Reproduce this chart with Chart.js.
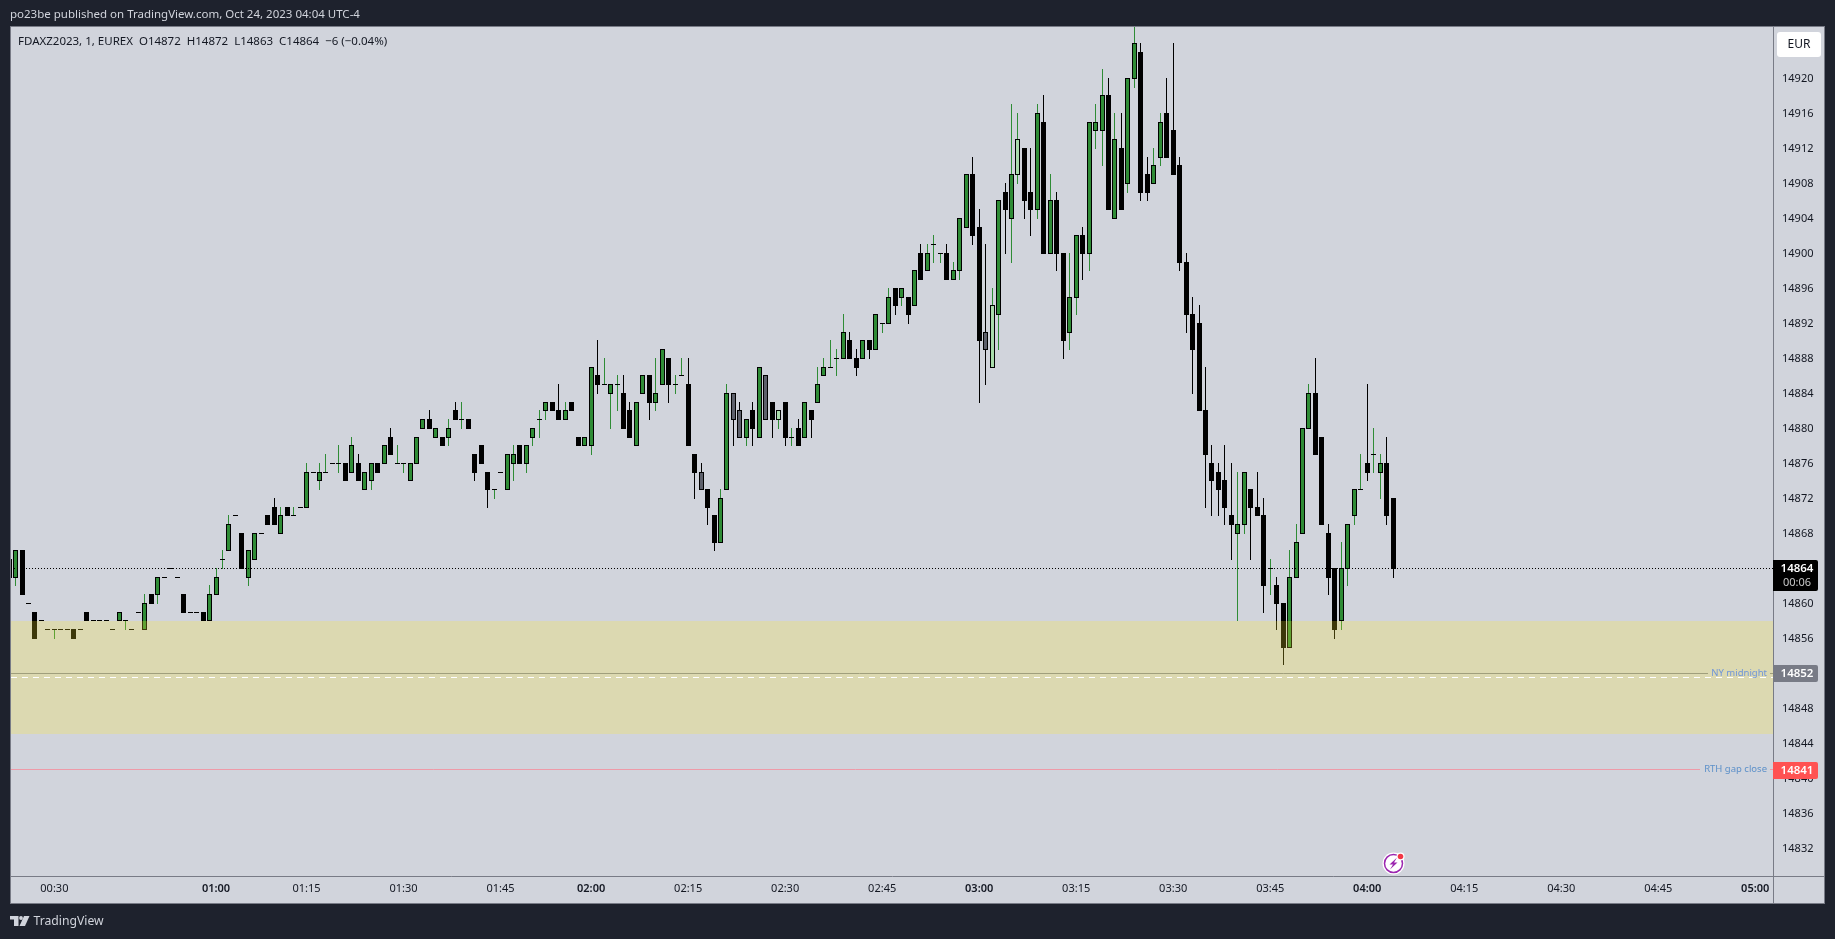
<!DOCTYPE html>
<html>
<head>
<meta charset="utf-8">
<title>FDAXZ2023</title>
<script src="https://cdn.jsdelivr.net/npm/chart.js@4/dist/chart.umd.js"></script>
<style>
  html, body { margin: 0; padding: 0; background: #1e222d; overflow: hidden; }
  canvas { display: block; }
</style>
</head>
<body>
<canvas id="myChart" width="1835" height="939"></canvas>
<script>
const opens = [14863,14863,14866,14860,14859,14858,14857,14857,14857,14857,14857,14857,14859,14858,14858,14858,14857,14858,14858,14857,
  14859,14857,14861,14861,14863,14864,14863,14861,14859,14859,14859,14858,14861,14865,14866,14870,14868,14863,14865,14868,
  14870,14871,14868,14871,14870,14871,14871,14875,14874,14875,14876,14876,14876,14875,14876,14873,14874,14876,14876,14879,
  14876,14876,14874,14876,14880,14881,14879,14879,14879,14882,14881,14881,14877,14878,14875,14873,14875,14873,14876,14878,
  14876,14879,14881,14882,14883,14882,14881,14883,14879,14878,14878,14886,14885,14884,14885,14884,14882,14878,14884,14886,
  14883,14885,14888,14885,14886,14885,14877,14875,14873,14870,14867,14873,14884,14882,14879,14882,14879,14886,14883,14881,
  14883,14879,14880,14879,14882,14883,14886,14887,14888,14888,14890,14888,14888,14890,14889,14892,14892,14896,14895,14895,
  14894,14900,14898,14901,14900,14900,14897,14898,14903,14909,14903,14891,14887,14893,14907,14904,14909,14912,14907,14905,
  14915,14900,14906,14900,14891,14895,14902,14900,14914,14914,14918,14904,14912,14908,14920,14923,14909,14908,14911,14916,
  14914,14910,14899,14893,14892,14882,14876,14875,14874,14870,14868,14869,14873,14871,14870,14864,14862,14860,14855,14863,
  14868,14880,14884,14879,14868,14864,14858,14864,14870,14873,14876,14877,14875,14876,14872];
const highs = [14865,14866,14866,14860,14859,14858,14857,14857,14857,14857,14857,14857,14859,14858,14858,14858,14857,14859,14858,14857,
  14859,14861,14861,14863,14863,14864,14863,14861,14859,14859,14859,14862,14864,14866,14870,14870,14868,14866,14868,14868,
  14870,14872,14871,14871,14871,14871,14876,14875,14876,14877,14876,14878,14876,14879,14877,14875,14876,14876,14878,14880,
  14878,14876,14876,14879,14881,14882,14880,14879,14881,14883,14883,14881,14877,14878,14875,14873,14875,14877,14878,14878,
  14878,14880,14882,14883,14883,14885,14883,14883,14879,14879,14887,14890,14888,14885,14886,14886,14883,14883,14886,14886,
  14888,14889,14888,14886,14888,14888,14877,14876,14873,14870,14873,14885,14884,14883,14881,14883,14887,14886,14883,14882,
  14883,14880,14881,14883,14882,14887,14888,14890,14889,14893,14891,14889,14890,14890,14893,14892,14896,14896,14896,14895,
  14898,14901,14901,14902,14900,14901,14899,14904,14909,14911,14905,14901,14896,14906,14908,14917,14916,14912,14912,14917,
  14918,14909,14907,14900,14900,14902,14903,14915,14917,14921,14920,14916,14916,14920,14926,14924,14911,14912,14916,14920,
  14924,14911,14900,14895,14894,14887,14878,14876,14878,14876,14875,14875,14873,14875,14872,14865,14863,14860,14866,14869,
  14880,14885,14888,14879,14869,14864,14867,14869,14873,14877,14885,14880,14877,14879,14872];
const lows = [14863,14862,14861,14860,14856,14858,14857,14856,14857,14857,14856,14857,14858,14858,14858,14858,14857,14858,14857,14857,
  14859,14857,14860,14860,14863,14864,14863,14859,14859,14859,14858,14858,14861,14864,14866,14870,14864,14862,14865,14868,
  14869,14869,14868,14870,14870,14871,14871,14875,14873,14875,14876,14875,14874,14875,14874,14873,14873,14875,14876,14877,
  14876,14875,14874,14876,14880,14880,14879,14878,14878,14881,14880,14880,14874,14876,14871,14872,14875,14873,14874,14876,
  14875,14878,14879,14881,14882,14881,14881,14882,14878,14878,14877,14884,14885,14880,14882,14880,14879,14878,14884,14881,
  14882,14885,14883,14884,14886,14878,14872,14873,14869,14866,14867,14873,14878,14879,14878,14878,14879,14881,14879,14880,
  14878,14878,14878,14879,14879,14883,14886,14887,14886,14888,14888,14886,14888,14888,14889,14891,14892,14893,14894,14892,
  14894,14897,14898,14899,14899,14897,14897,14897,14903,14901,14883,14885,14887,14889,14900,14899,14908,14904,14902,14904,
  14900,14900,14898,14888,14889,14893,14897,14898,14912,14910,14905,14904,14905,14907,14919,14906,14906,14908,14910,14911,
  14909,14898,14891,14884,14882,14871,14870,14870,14869,14865,14858,14868,14865,14870,14859,14861,14857,14853,14855,14863,
  14868,14880,14877,14869,14861,14856,14857,14862,14869,14873,14874,14875,14872,14869,14863];
const closes = [14865,14866,14861,14860,14856,14858,14857,14857,14857,14857,14856,14857,14858,14858,14858,14858,14857,14859,14858,14857,
  14859,14860,14860,14863,14863,14864,14863,14859,14859,14859,14858,14861,14863,14865,14869,14870,14864,14866,14868,14868,
  14869,14869,14870,14870,14870,14871,14875,14875,14875,14875,14876,14876,14874,14878,14874,14875,14876,14875,14878,14877,
  14876,14876,14876,14879,14881,14880,14880,14878,14880,14881,14881,14880,14875,14876,14873,14873,14875,14877,14877,14876,
  14878,14880,14881,14883,14882,14881,14882,14882,14878,14879,14887,14885,14885,14885,14885,14880,14879,14883,14886,14883,
  14884,14889,14885,14885,14886,14878,14875,14873,14871,14867,14872,14884,14881,14879,14881,14880,14887,14881,14881,14882,
  14879,14879,14878,14883,14881,14885,14887,14887,14888,14891,14888,14887,14890,14889,14893,14892,14895,14894,14896,14893,
  14898,14897,14900,14901,14900,14897,14898,14904,14909,14902,14890,14889,14894,14906,14905,14909,14913,14906,14905,14916,
  14900,14906,14900,14890,14895,14902,14900,14915,14915,14918,14905,14913,14905,14920,14924,14907,14907,14910,14915,14911,
  14909,14899,14893,14889,14882,14877,14874,14873,14871,14869,14869,14875,14871,14870,14862,14864,14860,14855,14863,14867,
  14880,14884,14877,14869,14863,14857,14864,14869,14873,14873,14875,14877,14876,14870,14864];

// candles TradingView greyed out or lightened on the original chart
const greyBars = [107, 112, 113, 117, 151];
const lightBars = [119, 152, 156];

const priceTicks = [14832,14836,14840,14844,14848,14852,14856,14860,14864,14868,14872,14876,14880,14884,14888,14892,14896,14900,14904,14908,14912,14916,14920];
const timeTicks = [7, 32, 46, 61, 76, 90, 105, 120, 135, 150, 165, 180, 195, 210, 225, 240, 255, 270];
const timeLabels = ['00:30','01:00','01:15','01:30','01:45','02:00','02:15','02:30','02:45','03:00','03:15','03:30','03:45','04:00','04:15','04:30','04:45','05:00'];
const boldTimes = ['01:00','02:00','03:00','04:00','05:00'];

const zoneTop = 14857.9;
const zoneBottom = 14845;
const midnightLevel = 14852;
const midnightDash = 14851.5;
const gapLevel = 14841;
const lastPrice = 14864;

const FONT = '"Noto Sans", sans-serif';
const GREEN = '#2f8c36';
const GREY = '#5d606b';
const LIGHT = '#a9dcab';
const AXIS_LINE = '#787b86';
const TEXT = '#131722';

const indexes = opens.map((v, i) => i);

// keep the candles on whole pixels, the reference has no blurred edges
const drawBar = Chart.BarElement.prototype.draw;
Chart.BarElement.prototype.draw = function (ctx) {
  const { x, y, base } = this;
  const top = Math.floor(Math.min(y, base));
  const bottom = Math.floor(Math.max(y, base)) + 1;
  this.x = Math.round(x - this.width / 2) + this.width / 2;
  this.y = top;
  this.base = bottom;
  drawBar.call(this, ctx);
  this.x = x;
  this.y = y;
  this.base = base;
};

function roundBox(ctx, x, y, w, h, r) {
  ctx.beginPath();
  ctx.roundRect(x, y, w, h, r);
  ctx.fill();
}

function priceTag(ctx, y, h, color, label, sub) {
  ctx.fillStyle = color;
  roundBox(ctx, 1773, y, 45, h, [0, 2, 2, 0]);
  ctx.fillStyle = '#ffffff';
  ctx.font = '600 11.5px ' + FONT;
  ctx.textAlign = 'center';
  ctx.textBaseline = 'middle';
  ctx.fillText(label, 1797, y + (sub ? 9 : h / 2));
  if (sub) {
    ctx.fillStyle = '#c8c8c8';
    ctx.font = '11px ' + FONT;
    ctx.fillText(sub, 1797, y + 23);
  }
}

function tvLogo(ctx) {
  ctx.fillStyle = '#d1d4dc';
  ctx.fillRect(10, 916, 8, 3.5);
  ctx.fillRect(14, 916, 4.5, 10);
  ctx.beginPath();
  ctx.arc(21, 918, 1.9, 0, Math.PI * 2);
  ctx.fill();
  ctx.beginPath();
  ctx.moveTo(24, 916);
  ctx.lineTo(29.5, 916);
  ctx.lineTo(25, 926);
  ctx.lineTo(19.5, 926);
  ctx.fill();
}

function boltIcon(ctx, cx, cy) {
  ctx.fillStyle = '#ffffff';
  ctx.beginPath();
  ctx.arc(cx, cy, 11, 0, Math.PI * 2);
  ctx.fill();
  ctx.strokeStyle = '#9c27b0';
  ctx.lineWidth = 1.5;
  ctx.beginPath();
  ctx.arc(cx, cy, 9, 0, Math.PI * 2);
  ctx.stroke();
  ctx.fillStyle = '#9c27b0';
  ctx.beginPath();
  ctx.moveTo(cx + 3.5, cy - 6);
  ctx.lineTo(cx - 4, cy + 1);
  ctx.lineTo(cx - 0.5, cy + 1);
  ctx.lineTo(cx - 3.5, cy + 6);
  ctx.lineTo(cx + 4, cy - 1);
  ctx.lineTo(cx + 0.5, cy - 1);
  ctx.fill();
  ctx.fillStyle = '#ffffff';
  ctx.beginPath();
  ctx.arc(cx + 7, cy - 7, 4, 0, Math.PI * 2);
  ctx.fill();
  ctx.fillStyle = '#f23645';
  ctx.beginPath();
  ctx.arc(cx + 7, cy - 7, 2.8, 0, Math.PI * 2);
  ctx.fill();
}

const tvChrome = {
  id: 'tvChrome',
  beforeDraw(chart) {
    const ctx = chart.ctx;
    ctx.save();
    ctx.fillStyle = '#1e222d';
    ctx.fillRect(0, 0, chart.width, chart.height);
    ctx.fillStyle = '#d1d4dc';
    ctx.fillRect(10, 26, 1815, 878);
    ctx.strokeStyle = AXIS_LINE;
    ctx.lineWidth = 1;
    ctx.strokeRect(10.5, 26.5, 1814, 877);
    ctx.beginPath();
    ctx.moveTo(1773.5, 876);
    ctx.lineTo(1773.5, 903);
    ctx.moveTo(1773, 876.5);
    ctx.lineTo(1824, 876.5);
    ctx.stroke();
    ctx.restore();
  },
  afterDatasetsDraw(chart) {
    const ctx = chart.ctx;
    const area = chart.chartArea;
    const y = chart.scales.y;
    ctx.save();
    ctx.beginPath();
    ctx.rect(area.left, area.top, area.right - area.left, area.bottom - area.top);
    ctx.clip();

    const zt = Math.floor(y.getPixelForValue(zoneTop));
    const zb = Math.floor(y.getPixelForValue(zoneBottom));
    ctx.fillStyle = 'rgba(255, 235, 40, 0.24)';
    ctx.fillRect(area.left, zt, area.right - area.left, zb - zt);

    ctx.lineWidth = 1;
    const lastY = Math.floor(y.getPixelForValue(lastPrice)) + 0.5;
    ctx.strokeStyle = '#000000';
    ctx.setLineDash([1, 2]);
    ctx.beginPath();
    ctx.moveTo(area.left, lastY);
    ctx.lineTo(area.right, lastY);
    ctx.stroke();

    const dashY = Math.floor(y.getPixelForValue(midnightDash)) + 0.5;
    ctx.strokeStyle = '#ffffff';
    ctx.setLineDash([6, 5]);
    ctx.beginPath();
    ctx.moveTo(area.left, dashY);
    ctx.lineTo(area.right, dashY);
    ctx.stroke();
    ctx.setLineDash([]);

    const midY = Math.floor(y.getPixelForValue(midnightLevel)) + 0.5;
    ctx.strokeStyle = '#a09f7c';
    ctx.beginPath();
    ctx.moveTo(area.left, midY);
    ctx.lineTo(1708, midY);
    ctx.moveTo(1770, midY);
    ctx.lineTo(area.right, midY);
    ctx.stroke();

    const gapY = Math.floor(y.getPixelForValue(gapLevel)) + 0.5;
    ctx.strokeStyle = '#ee9aa8';
    ctx.beginPath();
    ctx.moveTo(area.left, gapY);
    ctx.lineTo(1700, gapY);
    ctx.moveTo(1770, gapY);
    ctx.lineTo(area.right, gapY);
    ctx.stroke();

    ctx.font = '9.5px ' + FONT;
    ctx.textAlign = 'right';
    ctx.textBaseline = 'middle';
    ctx.fillStyle = '#6f95d8';
    ctx.fillText('NY midnight', 1767, midY);
    ctx.fillStyle = '#5c90c9';
    ctx.fillText('RTH gap close', 1767, gapY);
    ctx.restore();
  },
  afterDraw(chart) {
    const ctx = chart.ctx;
    const y = chart.scales.y;
    ctx.save();

    priceTag(ctx, Math.round(y.getPixelForValue(lastPrice)) - 8, 31, '#000000', '14864', '00:06');
    priceTag(ctx, Math.round(y.getPixelForValue(midnightLevel)) - 8, 17, AXIS_LINE, '14852');
    priceTag(ctx, Math.round(y.getPixelForValue(gapLevel)) - 8, 17, '#ff5252', '14841');

    ctx.fillStyle = '#ffffff';
    roundBox(ctx, 1777, 32, 44, 25, 3);
    ctx.fillStyle = TEXT;
    ctx.font = '12px ' + FONT;
    ctx.textAlign = 'center';
    ctx.textBaseline = 'middle';
    ctx.fillText('EUR', 1799, 44.5);

    ctx.textAlign = 'left';
    ctx.fillStyle = '#d1d4dc';
    ctx.font = '11.5px ' + FONT;
    ctx.fillText('po23be published on TradingView.com, Oct 24, 2023 04:04 UTC-4', 10, 14.5);

    ctx.fillStyle = TEXT;
    ctx.font = '11.5px ' + FONT;
    ctx.fillText('FDAXZ2023, 1, EUREX  O14872  H14872  L14863  C14864  \u22126 (\u22120.04%)', 18, 41.5);

    tvLogo(ctx);
    ctx.fillStyle = '#d1d4dc';
    ctx.font = '12.2px ' + FONT;
    ctx.fillText('TradingView', 33.5, 921.5);

    boltIcon(ctx, 1393.5, 863.5);
    ctx.restore();
  }
};

new Chart(document.getElementById('myChart'), {
  type: 'bar',
  data: {
    datasets: [
      {
        label: 'wicks',
        data: indexes.map(i => ({ x: i, y: [lows[i], highs[i]] })),
        backgroundColor: indexes.map(i => (closes[i] >= opens[i] ? GREEN : '#000000')),
        borderWidth: 0,
        barThickness: 1,
        inflateAmount: 0,
        grouped: false,
        clip: 0,
        order: 2
      },
      {
        label: 'bodies',
        data: indexes.map(i => ({ x: i, y: [opens[i], closes[i]] })),
        backgroundColor: indexes.map(i => {
          if (greyBars.includes(i)) return GREY;
          if (lightBars.includes(i)) return LIGHT;
          return closes[i] >= opens[i] ? GREEN : '#000000';
        }),
        borderColor: '#000000',
        borderWidth: 1,
        borderSkipped: false,
        barThickness: 5,
        inflateAmount: 0,
        grouped: false,
        clip: 0,
        order: 1
      }
    ]
  },
  options: {
    responsive: false,
    animation: false,
    events: [],
    layout: { padding: { left: 11, top: 27, right: 10, bottom: 36 } },
    plugins: { legend: { display: false }, tooltip: { enabled: false }, title: { display: false } },
    scales: {
      x: {
        type: 'linear',
        offset: false,
        min: 0.294,
        max: 272.75,
        afterFit: scale => { scale.height = 27; },
        afterBuildTicks: scale => { scale.ticks = timeTicks.map(v => ({ value: v })); },
        grid: { display: false, drawTicks: false },
        border: { color: AXIS_LINE },
        ticks: {
          autoSkip: false,
          maxRotation: 0,
          padding: 6.5,
          color: TEXT,
          callback: v => timeLabels[timeTicks.indexOf(v)],
          font: ctx => ({
            family: FONT,
            size: 11,
            weight: ctx.tick && boldTimes.includes(ctx.tick.label) ? 600 : 'normal'
          })
        }
      },
      y: {
        type: 'linear',
        position: 'right',
        min: 14828.85,
        max: 14925.87,
        afterFit: scale => { scale.width = 52; },
        afterBuildTicks: scale => { scale.ticks = priceTicks.map(v => ({ value: v })); },
        grid: { display: false, drawTicks: false },
        border: { color: AXIS_LINE },
        ticks: {
          padding: 9,
          color: TEXT,
          crossAlign: 'near',
          callback: v => String(v),
          font: { family: FONT, size: 11 }
        }
      }
    }
  },
  plugins: [tvChrome]
});
</script>
</body>
</html>
